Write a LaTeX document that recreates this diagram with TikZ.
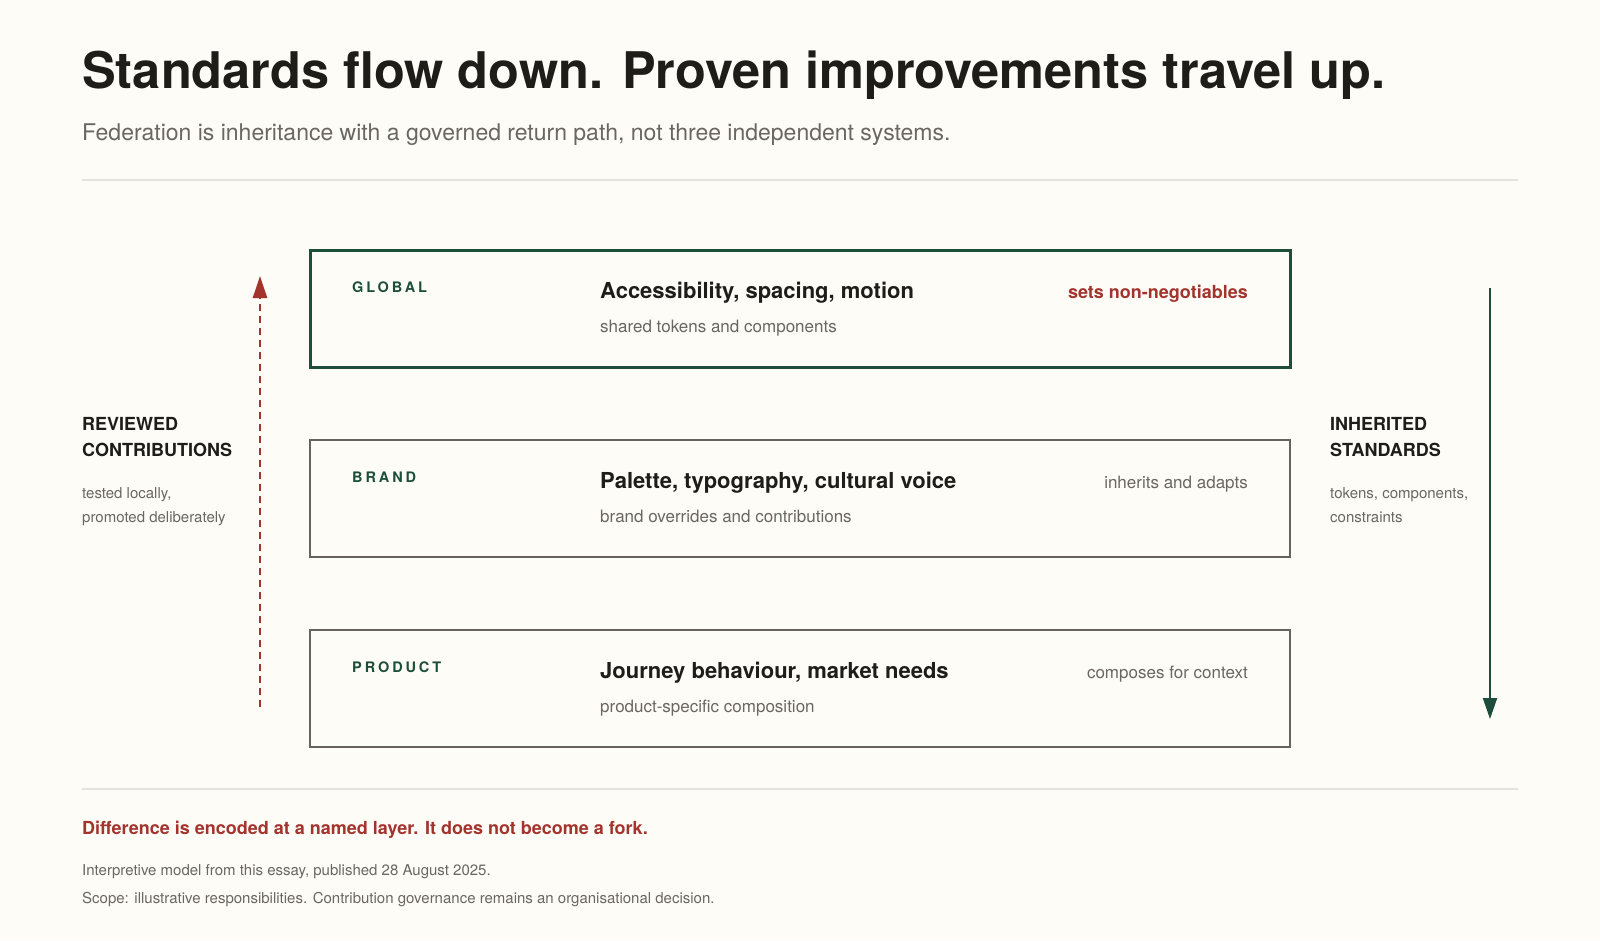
\documentclass[tikz,border=0pt]{standalone}
\usepackage{fontspec}
\setmainfont{TeX Gyre Heros}
\newfontfamily\trackfont[LetterSpace=20]{TeX Gyre Heros}
\usetikzlibrary{arrows.meta}

\definecolor{bgcol}{HTML}{FDFCF7}
\definecolor{inkcol}{HTML}{1E1D1A}
\definecolor{greycol}{HTML}{6B6661}
\definecolor{greencol}{HTML}{1D4E3B}
\definecolor{redcol}{HTML}{A3332D}
\definecolor{rulecol}{HTML}{E5E3DB}
\definecolor{boxgrey}{HTML}{67625D}

\tikzset{
  txt/.style={anchor=base west, inner sep=0pt},
  layerbox/.style={draw=boxgrey, line width=2pt, minimum width=980pt, minimum height=117pt, inner sep=0pt},
  layertag/.style={txt, text=greencol, font=\trackfont\fontsize{14.5}{16}\selectfont\bfseries},
  layerhead/.style={txt, text=inkcol, font=\fontsize{22}{24}\selectfont\bfseries},
  layersub/.style={txt, text=greycol, font=\fontsize{17}{18}\selectfont},
  layerrole/.style={anchor=base east, inner sep=0pt, text=greycol, font=\fontsize{17}{18}\selectfont},
  sidehead/.style={txt, text=inkcol, align=left, font=\fontsize{18}{26}\selectfont\bfseries},
  sidenote/.style={txt, text=greycol, align=left, font=\fontsize{15}{24}\selectfont},
}

\begin{document}
\begin{tikzpicture}[x=1pt,y=-1pt]
\fill[bgcol] (0,0) rectangle (1600,940); % --- page background
\useasboundingbox (0,0) rectangle (1600,940);

% ----- heading
\node[txt, text=inkcol, font=\fontsize{50.5}{60}\selectfont\bfseries] (title) at (82,88) {Standards flow down. Proven improvements travel up.};
\node[txt, text=greycol, font=\fontsize{23}{26}\selectfont] (subtitle) at (82,140) {Federation is inheritance with a governed return path, not three independent systems.};
\draw[rulecol, line width=1.5pt] (82,180) -- (1518,180); % top rule

% ----- the three layers
\node[layerbox, draw=greencol, line width=3pt] (global) at (800,309) {};
\node[layerbox] (brand) at (800,498.5) {};
\node[layerbox] (product) at (800,688.5) {};

\node[layertag] (globaltag) at (352,292) {GLOBAL};
\node[layerhead] (globalhead) at (600,298) {Accessibility, spacing, motion};
\node[layersub] (globalsub) at (600,332) {shared tokens and components};
\node[layerrole, text=redcol, font=\fontsize{18}{20}\selectfont\bfseries] (globalrole) at (1248,298) {sets non-negotiables};

\node[layertag] (brandtag) at (352,482) {BRAND};
\node[layerhead] (brandhead) at (600,488) {Palette, typography, cultural voice};
\node[layersub] (brandsub) at (600,522) {brand overrides and contributions};
\node[layerrole] (brandrole) at (1248,488) {inherits and adapts};

\node[layertag] (producttag) at (352,672) {PRODUCT};
\node[layerhead] (producthead) at (600,678) {Journey behaviour, market needs};
\node[layersub] (productsub) at (600,712) {product-specific composition};
\node[layerrole] (productrole) at (1248,678) {composes for context};

% ----- return path (up) and inheritance (down)
\coordinate (upfrom) at (260,707);
\coordinate (upto) at (260,276);
\draw[redcol, line width=2.5pt, dash pattern=on 7pt off 5pt, -{Triangle[length=22pt,width=14pt]}] (upfrom) -- (upto);
\coordinate (downfrom) at (1490,288);
\coordinate (downto) at (1490,719);
\draw[greencol, line width=2pt, -{Triangle[length=21pt,width=14pt]}] (downfrom) -- (downto);

\node[sidehead] (uphead) at (82,456) {REVIEWED\\CONTRIBUTIONS};
\node[sidenote] (upnote) at (82,522) {tested locally,\\promoted deliberately};
\node[sidehead] (downhead) at (1330,456) {INHERITED\\STANDARDS};
\node[sidenote] (downnote) at (1330,522) {tokens, components,\\constraints};

% ----- footer
\draw[rulecol, line width=1.5pt] (82,789) -- (1518,789); % bottom rule
\node[txt, text=redcol, font=\fontsize{18}{20}\selectfont\bfseries] (verdict) at (82,834) {Difference is encoded at a named layer. It does not become a fork.};
\node[txt, text=greycol, font=\fontsize{15}{16}\selectfont] (source) at (82,875) {Interpretive model from this essay, published 28 August 2025.};
\node[txt, text=greycol, font=\fontsize{15}{16}\selectfont] (scope) at (82,903) {Scope: illustrative responsibilities. Contribution governance remains an organisational decision.};
\end{tikzpicture}
\end{document}
